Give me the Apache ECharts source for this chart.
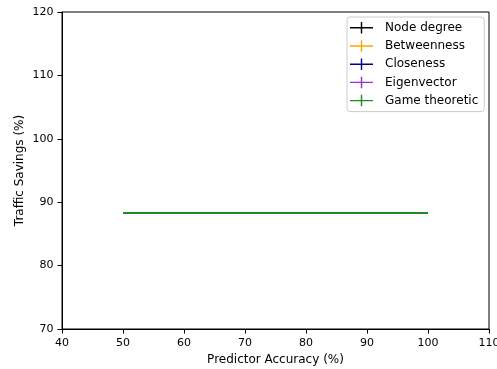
<!DOCTYPE html>
<html>
<head>
<meta charset="utf-8">
<script src="https://cdn.jsdelivr.net/npm/echarts@6/dist/echarts.min.js"></script>
<style>
  html, body { margin: 0; padding: 0; background: #fff; }
  #chart { width: 497px; height: 369px; }
</style>
</head>
<body>
<div id="chart"></div>
<script>
// Predictor accuracy levels (x) and traffic savings per centrality method (y)
const accuracy = [50, 60, 70, 80, 90, 100];
const seriesNames = ['Node degree', 'Betweenness', 'Closeness', 'Eigenvector', 'Game theoretic'];
const seriesColors = ['#000000', '#ffa500', '#000080', '#9932cc', '#228b22'];
const nodeDegree    = [88.3, 88.3, 88.3, 88.3, 88.3, 88.3];
const betweenness   = [88.3, 88.3, 88.3, 88.3, 88.3, 88.3];
const closeness     = [88.3, 88.3, 88.3, 88.3, 88.3, 88.3];
const eigenvector   = [88.3, 88.3, 88.3, 88.3, 88.3, 88.3];
const gameTheoretic = [88.3, 88.3, 88.3, 88.3, 88.3, 88.3];
const values = [nodeDegree, betweenness, closeness, eigenvector, gameTheoretic];

const xTicks = { min: 40, max: 110, interval: 10 };
const yTicks = { min: 70, max: 120, interval: 10 };

const FONT = 'DejaVu Sans';
const FS = 12;       // titles and legend
const TICK_FS = 11;  // tick labels

// Error-bar style legend glyph: horizontal stroke with a vertical cap
const errIcon = 'path://M0,5.25H24V6.75H0Z M11.25,0H12.75V12H11.25Z';

const chart = echarts.init(document.getElementById('chart'), null, { renderer: 'canvas' });

chart.setOption({
  animation: false,
  textStyle: { fontFamily: FONT },
  grid: {
    left: 62, right: 8, top: 12, bottom: 40,
    outerBoundsMode: 'none',
    containLabel: false,
    show: true, borderColor: '#000', borderWidth: 1, backgroundColor: 'transparent'
  },
  legend: {
    orient: 'vertical',
    left: 347, top: 17,
    itemWidth: 23, itemHeight: 12, itemGap: 6.2,
    padding: [4.8, 6, 5, 3],
    backgroundColor: 'rgba(255,255,255,0.8)',
    borderColor: '#cccccc', borderWidth: 1, borderRadius: 3,
    icon: errIcon,
    textStyle: { fontFamily: FONT, fontSize: FS, color: '#000', padding: [0, 0, 0, 7] },
    data: seriesNames.map((n) => ({ name: n, icon: errIcon }))
  },
  xAxis: {
    type: 'value',
    min: xTicks.min, max: xTicks.max, interval: xTicks.interval,
    name: 'Predictor Accuracy (%)',
    nameLocation: 'middle', nameGap: 25, nameMoveOverlap: false,
    nameTextStyle: { fontFamily: FONT, fontSize: FS, color: '#000' },
    axisLine: { show: true, lineStyle: { color: '#000', width: 1 } },
    axisTick: { show: true, inside: false, length: 4.5, lineStyle: { color: '#000' } },
    axisLabel: { fontFamily: FONT, fontSize: TICK_FS, color: '#000', margin: 9, hideOverlap: false },
    splitLine: { show: false }
  },
  yAxis: {
    type: 'value',
    min: yTicks.min, max: yTicks.max, interval: yTicks.interval,
    name: 'Traffic Savings (%)',
    nameLocation: 'middle', nameGap: 36, nameMoveOverlap: false,
    nameTextStyle: { fontFamily: FONT, fontSize: FS, color: '#000' },
    axisLine: { show: true, lineStyle: { color: '#000', width: 1 } },
    axisTick: { show: true, inside: false, length: 4.5, lineStyle: { color: '#000' } },
    axisLabel: { fontFamily: FONT, fontSize: TICK_FS, color: '#000', margin: 8.5 },
    splitLine: { show: false }
  },
  series: seriesNames.map((name, i) => ({
    name: name,
    type: 'line',
    data: accuracy.map((x, j) => [x, values[i][j]]),
    symbol: 'none',
    color: seriesColors[i],
    lineStyle: { color: seriesColors[i], width: i === seriesNames.length - 1 ? 2 : 1.6 },
    itemStyle: { color: seriesColors[i] },
    z: 2 + i
  }))
});
</script>
</body>
</html>
